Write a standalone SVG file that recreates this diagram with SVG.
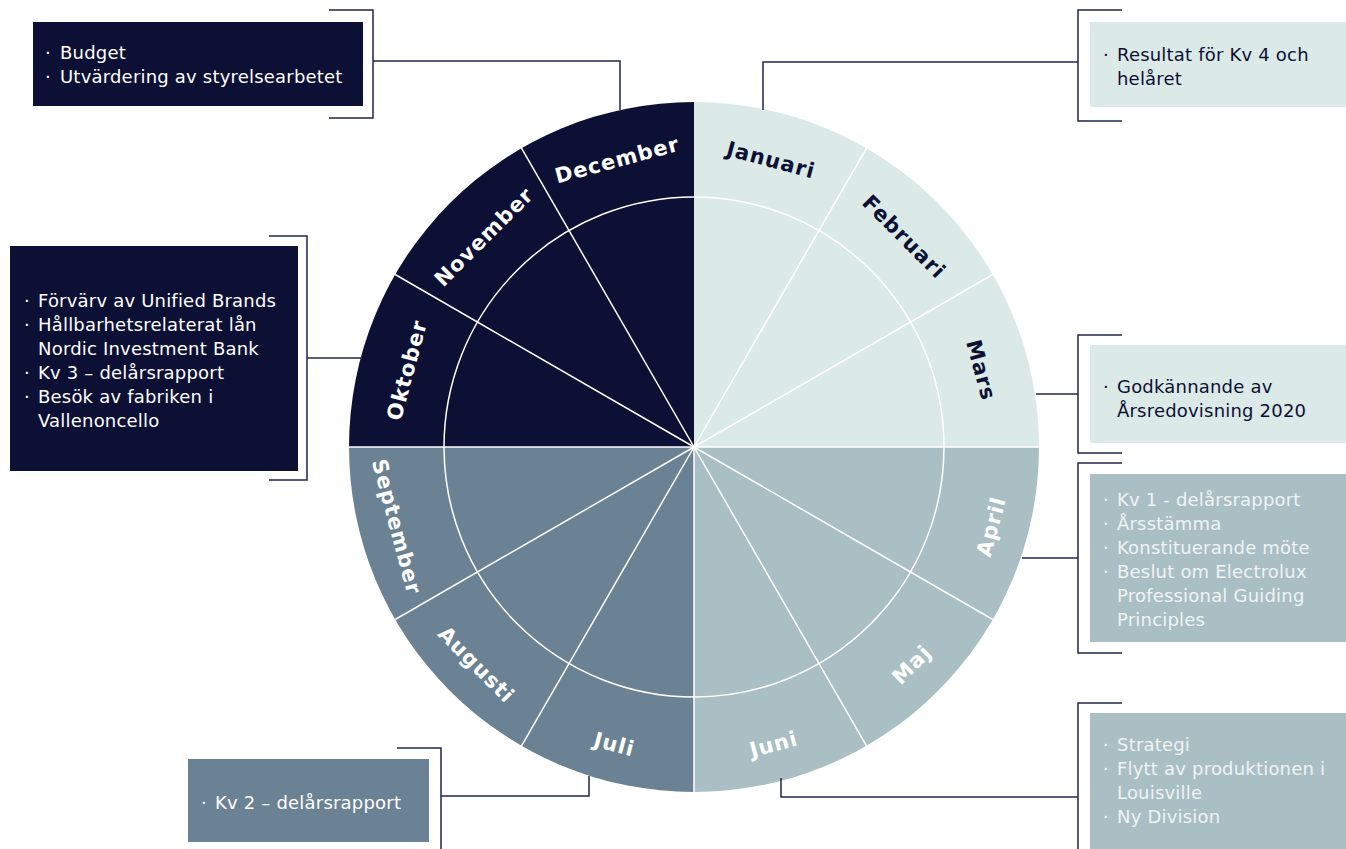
<svg xmlns="http://www.w3.org/2000/svg" width="1346" height="849" viewBox="0 0 1346 849">
<style>
.navy{fill:#0d1035}.light{fill:#dbe9e7}.mid{fill:#aabfc3}.slate{fill:#6b8294}
.bt{font-family:"DejaVu Sans",sans-serif;font-size:18px;letter-spacing:0.2px}
.w{fill:#ffffff}.d{fill:#0d1035}.p{fill:#eef3f4}
.mo{font-family:"DejaVu Sans",sans-serif;font-size:21px;font-weight:bold;letter-spacing:1px;text-anchor:middle;dominant-baseline:central}
.con{fill:none;stroke:#22244f;stroke-width:1.5}
.sp{stroke:#ffffff;stroke-width:1.5;fill:none}
</style>
<rect width="1346" height="849" fill="#ffffff"/>
<g id="wheel">
<path class="light" d="M694,447 L694,102 A345,345 0 0 1 1039,447 Z"/>
<path class="mid" d="M694,447 L1039,447 A345,345 0 0 1 694,792 Z"/>
<path class="slate" d="M694,447 L694,792 A345,345 0 0 1 349,447 Z"/>
<path class="navy" d="M694,447 L349,447 A345,345 0 0 1 694,102 Z"/>
<circle class="sp" cx="694" cy="447" r="250"/>
<g class="sp">
<line x1="694" y1="447" x2="866.5" y2="148.2"/>
<line x1="694" y1="447" x2="992.8" y2="274.5"/>
<line x1="694" y1="447" x2="1039" y2="447"/>
<line x1="694" y1="447" x2="992.8" y2="619.5"/>
<line x1="694" y1="447" x2="866.5" y2="745.8"/>
<line x1="694" y1="447" x2="694" y2="792"/>
<line x1="694" y1="447" x2="521.5" y2="745.8"/>
<line x1="694" y1="447" x2="395.2" y2="619.5"/>
<line x1="694" y1="447" x2="349" y2="447"/>
<line x1="694" y1="447" x2="395.2" y2="274.5"/>
<line x1="694" y1="447" x2="521.5" y2="148.2"/>
</g>
</g>
<g id="month-labels">
<text class="mo d" x="694" y="150" transform="rotate(15 694 447)">Januari</text>
<text class="mo d" x="694" y="150" transform="rotate(45 694 447)">Februari</text>
<text class="mo d" x="694" y="150" transform="rotate(75 694 447)">Mars</text>
<text class="mo w" x="694" y="755" transform="rotate(-75 694 447)">April</text>
<text class="mo w" x="694" y="755" transform="rotate(-45 694 447)">Maj</text>
<text class="mo w" x="694" y="755" transform="rotate(-15 694 447)">Juni</text>
<text class="mo w" x="694" y="755" transform="rotate(15 694 447)">Juli</text>
<text class="mo w" x="694" y="755" transform="rotate(45 694 447)">Augusti</text>
<text class="mo w" x="694" y="755" transform="rotate(75 694 447)">September</text>
<text class="mo w" x="694" y="150" transform="rotate(-75 694 447)">Oktober</text>
<text class="mo w" x="694" y="150" transform="rotate(-45 694 447)">November</text>
<text class="mo w" x="694" y="150" transform="rotate(-15 694 447)">December</text>
</g>
<g id="connectors">
<polyline class="con" points="329,10 373,10 373,118 329,118"/>
<polyline class="con" points="373,61 620,61 620,110"/>
<polyline class="con" points="1122,10 1078,10 1078,121 1122,121"/>
<polyline class="con" points="1078,62 763,62 763,110"/>
<polyline class="con" points="269,236 307,236 307,480 269,480"/>
<polyline class="con" points="307,358 362,358"/>
<polyline class="con" points="1122,335 1078,335 1078,453 1122,453"/>
<polyline class="con" points="1078,394 1036,394"/>
<polyline class="con" points="1122,463 1078,463 1078,653 1122,653"/>
<polyline class="con" points="1078,558 1022,558"/>
<polyline class="con" points="397,748 441,748 441,849"/>
<polyline class="con" points="441,796 589,796 589,776"/>
<polyline class="con" points="1122,703 1078,703 1078,849"/>
<polyline class="con" points="1078,797 781,797 781,778"/>
</g>
<g id="box-december">
<rect class="navy" x="33" y="22" width="330" height="84"/>
<g class="bt w">
<text x="45" y="59">·</text><text x="60" y="59">Budget</text>
<text x="45" y="83">·</text><text x="60" y="83">Utvärdering av styrelsearbetet</text>
</g>
</g>
<g id="box-januari">
<rect class="light" x="1090" y="22" width="256" height="85"/>
<g class="bt d">
<text x="1103" y="61">·</text><text x="1117" y="61">Resultat för Kv 4 och</text>
<text x="1117" y="85">helåret</text>
</g>
</g>
<g id="box-oktober">
<rect class="navy" x="10" y="246" width="288" height="225"/>
<g class="bt w">
<text x="24" y="307">·</text><text x="38" y="307">Förvärv av Unified Brands</text>
<text x="24" y="331">·</text><text x="38" y="331">Hållbarhetsrelaterat lån</text>
<text x="38" y="355">Nordic Investment Bank</text>
<text x="24" y="379">·</text><text x="38" y="379">Kv 3 – delårsrapport</text>
<text x="24" y="403">·</text><text x="38" y="403">Besök av fabriken i</text>
<text x="38" y="427">Vallenoncello</text>
</g>
</g>
<g id="box-mars">
<rect class="light" x="1090" y="345" width="256" height="98"/>
<g class="bt d">
<text x="1103" y="393">·</text><text x="1117" y="393">Godkännande av</text>
<text x="1117" y="417">Årsredovisning 2020</text>
</g>
</g>
<g id="box-april">
<rect class="mid" x="1090" y="474" width="256" height="168"/>
<g class="bt p">
<text x="1103" y="506">·</text><text x="1117" y="506">Kv 1 - delårsrapport</text>
<text x="1103" y="530">·</text><text x="1117" y="530">Årsstämma</text>
<text x="1103" y="554">·</text><text x="1117" y="554">Konstituerande möte</text>
<text x="1103" y="578">·</text><text x="1117" y="578">Beslut om Electrolux</text>
<text x="1117" y="602">Professional Guiding</text>
<text x="1117" y="626">Principles</text>
</g>
</g>
<g id="box-juli">
<rect class="slate" x="188" y="759" width="241" height="83"/>
<g class="bt w">
<text x="201" y="809">·</text><text x="215" y="809">Kv 2 – delårsrapport</text>
</g>
</g>
<g id="box-juni">
<rect class="mid" x="1090" y="713" width="256" height="136"/>
<g class="bt p">
<text x="1103" y="751">·</text><text x="1117" y="751">Strategi</text>
<text x="1103" y="775">·</text><text x="1117" y="775">Flytt av produktionen i</text>
<text x="1117" y="799">Louisville</text>
<text x="1103" y="823">·</text><text x="1117" y="823">Ny Division</text>
</g>
</g>
</svg>
